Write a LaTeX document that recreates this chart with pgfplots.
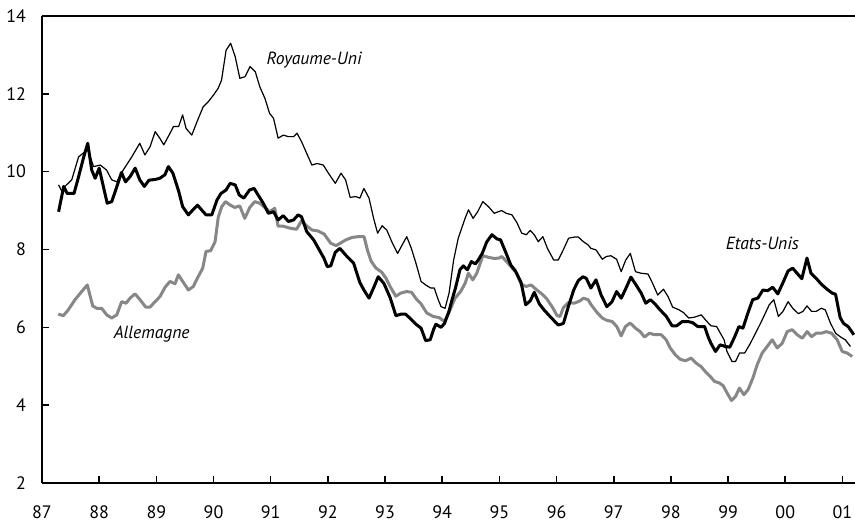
\documentclass[border=0pt]{standalone}
\usepackage{fontspec}
\setmainfont{PT Sans}
\usepackage{pgfplots}
\pgfplotsset{compat=1.18}
\definecolor{dgray}{RGB}{135,135,135}
\begin{document}
\begin{tikzpicture}
\begin{axis}[
  at={(0,0)}, anchor=south west,
  scale only axis, width=406.5pt, height=233.5pt,
  xmin=87, xmax=101.22, ymin=2, ymax=14,
  axis x line*=box, axis y line*=left,
  xtick pos=bottom, ytick pos=left,
  tick align=inside, major tick length=3.5pt,
  axis line style={line width=0.9pt},
  every tick/.style={black, line width=0.8pt},
  xtick={87,88,89,90,91,92,93,94,95,96,97,98,99,100,101},
  xticklabels={87,88,89,90,91,92,93,94,95,96,97,98,99,00,01},
  ytick={2,4,6,8,10,12,14},
  /pgf/number format/assume math mode=true,
  ticklabel style={font=\fontsize{9}{10}\selectfont},
  yticklabel style={xshift=-4.5pt},
  xticklabel style={yshift=-8pt},
  clip=false,
]
% Allemagne
\addplot[dgray, line width=1.5pt, line join=round] coordinates {
(87.285,6.34) (87.373,6.30) (87.460,6.45) (87.577,6.71) (87.695,6.92) (87.793,7.09) (87.887,6.55) (87.957,6.49) (88.044,6.49) (88.132,6.32) (88.219,6.24) (88.307,6.32) (88.394,6.66) (88.470,6.62) (88.540,6.75) (88.627,6.86) (88.715,6.71) (88.814,6.52) (88.890,6.52) (88.977,6.66) (89.064,6.79) (89.152,7.03) (89.239,7.18) (89.327,7.12) (89.385,7.35) (89.461,7.18) (89.560,6.96) (89.647,7.05) (89.717,7.26) (89.811,7.52) (89.869,7.95) (89.951,7.97) (90.027,8.20) (90.084,8.84) (90.144,9.10) (90.210,9.23) (90.284,9.15) (90.371,9.08) (90.459,9.12) (90.546,8.80) (90.634,9.08) (90.721,9.23) (90.809,9.19) (90.896,9.08) (90.984,8.97) (91.071,9.06) (91.129,8.60) (91.216,8.60) (91.333,8.55) (91.452,8.52) (91.540,8.74) (91.627,8.61) (91.724,8.50) (91.820,8.48) (91.933,8.40) (92.051,8.16) (92.143,8.10) (92.226,8.17) (92.318,8.25) (92.423,8.31) (92.528,8.33) (92.633,8.33) (92.691,7.99) (92.756,7.70) (92.843,7.52) (92.940,7.42) (93.018,7.26) (93.088,7.05) (93.188,6.80) (93.275,6.88) (93.377,6.92) (93.464,6.90) (93.552,6.72) (93.622,6.62) (93.730,6.37) (93.840,6.28) (93.945,6.25) (94.042,6.15) (94.129,6.42) (94.225,6.75) (94.322,6.92) (94.400,7.13) (94.458,7.39) (94.535,7.22) (94.605,7.39) (94.710,7.84) (94.808,7.80) (94.908,7.77) (94.995,7.78) (95.042,7.82) (95.126,7.69) (95.214,7.54) (95.301,7.39) (95.380,7.11) (95.467,7.05) (95.555,7.09) (95.655,6.96) (95.742,6.86) (95.830,6.73) (95.922,6.53) (96.010,6.30) (96.062,6.28) (96.120,6.51) (96.208,6.64) (96.307,6.62) (96.412,6.68) (96.470,6.75) (96.552,6.71) (96.605,6.58) (96.692,6.41) (96.797,6.24) (96.879,6.18) (96.972,6.15) (97.054,6.02) (97.130,5.78) (97.205,6.02) (97.287,6.11) (97.380,5.98) (97.462,5.89) (97.537,5.75) (97.625,5.85) (97.712,5.81) (97.829,5.81) (97.917,5.68) (97.987,5.47) (98.080,5.29) (98.162,5.18) (98.254,5.14) (98.354,5.21) (98.442,5.08) (98.529,4.99) (98.604,4.86) (98.687,4.74) (98.762,4.61) (98.849,4.57) (98.914,4.50) (98.984,4.31) (99.059,4.12) (99.129,4.22) (99.199,4.44) (99.276,4.27) (99.351,4.40) (99.434,4.70) (99.509,5.04) (99.597,5.34) (99.684,5.51) (99.772,5.68) (99.859,5.47) (99.946,5.59) (100.034,5.89) (100.121,5.94) (100.209,5.81) (100.296,5.72) (100.384,5.89) (100.459,5.76) (100.541,5.85) (100.634,5.85) (100.716,5.89) (100.809,5.85) (100.909,5.68) (100.996,5.38) (101.083,5.34) (101.171,5.25)
};
% Royaume-Uni
\addplot[black, line width=0.6pt, line join=round] coordinates {
(87.29,9.66) (87.35,9.49) (87.40,9.62) (87.52,9.79) (87.64,10.38) (87.75,10.51) (87.79,10.64) (87.90,10.13) (88.02,10.17) (88.13,10.04) (88.22,9.79) (88.31,9.74) (88.42,10.04) (88.57,10.38) (88.71,10.73) (88.80,10.43) (88.89,10.64) (88.98,11.03) (89.06,10.86) (89.13,10.69) (89.24,10.99) (89.30,11.16) (89.39,11.16) (89.46,11.46) (89.52,11.11) (89.62,10.94) (89.71,11.28) (89.82,11.67) (89.91,11.80) (90.00,11.97) (90.08,12.14) (90.14,12.35) (90.22,13.12) (90.30,13.30) (90.38,12.95) (90.46,12.40) (90.55,12.44) (90.64,12.70) (90.73,12.57) (90.81,12.18) (90.90,11.88) (90.98,11.50) (91.05,11.37) (91.13,10.86) (91.22,10.94) (91.31,10.90) (91.40,10.90) (91.46,10.99) (91.54,10.77) (91.63,10.47) (91.72,10.17) (91.81,10.21) (91.92,10.17) (92.01,9.96) (92.13,9.70) (92.23,9.96) (92.31,9.79) (92.39,9.34) (92.49,9.36) (92.56,9.32) (92.63,9.57) (92.72,9.32) (92.80,8.80) (92.87,8.42) (92.95,8.61) (93.03,8.50) (93.13,8.16) (93.22,7.90) (93.30,8.12) (93.38,8.33) (93.46,8.03) (93.54,7.65) (93.63,7.18) (93.71,7.09) (93.80,7.01) (93.86,7.01) (93.93,6.71) (93.98,6.53) (94.05,6.49) (94.12,6.88) (94.20,7.73) (94.28,8.29) (94.40,8.80) (94.46,9.02) (94.54,8.80) (94.62,8.97) (94.71,9.23) (94.81,9.10) (94.91,8.93) (94.98,8.97) (95.04,9.00) (95.12,8.93) (95.22,8.89) (95.31,8.68) (95.39,8.42) (95.47,8.38) (95.54,8.49) (95.61,8.38) (95.68,8.20) (95.76,8.33) (95.84,8.03) (95.95,7.73) (96.03,7.73) (96.13,8.03) (96.21,8.29) (96.31,8.32) (96.38,8.32) (96.47,8.20) (96.55,8.12) (96.60,8.03) (96.69,7.99) (96.80,7.75) (96.87,7.82) (96.95,7.84) (97.05,7.75) (97.13,7.43) (97.21,7.73) (97.29,7.90) (97.38,7.43) (97.48,7.39) (97.60,7.37) (97.68,7.13) (97.77,6.83) (97.87,6.98) (97.95,6.79) (98.03,6.52) (98.14,6.45) (98.22,6.38) (98.31,6.24) (98.41,6.26) (98.53,6.32) (98.63,6.15) (98.70,6.04) (98.80,6.02) (98.88,5.81) (98.93,5.68) (98.98,5.38) (99.07,5.12) (99.13,5.12) (99.20,5.34) (99.29,5.34) (99.39,5.59) (99.48,5.85) (99.57,6.11) (99.65,6.36) (99.72,6.58) (99.80,6.71) (99.88,6.28) (99.96,6.41) (100.05,6.66) (100.13,6.49) (100.23,6.35) (100.31,6.41) (100.38,6.55) (100.46,6.41) (100.54,6.41) (100.63,6.49) (100.70,6.45) (100.79,6.11) (100.88,5.85) (100.97,5.75) (101.05,5.68) (101.14,5.51)
};
% Etats-Unis
\addplot[black, line width=1.5pt, line join=round] coordinates {
(87.29,8.97) (87.38,9.62) (87.44,9.44) (87.56,9.44) (87.64,9.87) (87.73,10.38) (87.80,10.73) (87.87,10.04) (87.93,9.83) (88.00,10.09) (88.14,9.19) (88.22,9.23) (88.31,9.62) (88.39,9.98) (88.46,9.74) (88.54,9.87) (88.63,10.09) (88.71,9.79) (88.79,9.62) (88.87,9.78) (88.98,9.80) (89.06,9.83) (89.15,9.92) (89.21,10.13) (89.29,9.96) (89.39,9.50) (89.46,9.10) (89.56,8.89) (89.64,9.02) (89.72,9.14) (89.79,9.02) (89.87,8.89) (89.97,8.89) (90.06,9.27) (90.13,9.44) (90.22,9.53) (90.29,9.70) (90.38,9.66) (90.45,9.40) (90.53,9.32) (90.63,9.53) (90.71,9.57) (90.78,9.40) (90.87,9.19) (90.96,8.93) (91.05,8.97) (91.13,8.76) (91.22,8.87) (91.31,8.72) (91.40,8.76) (91.48,8.89) (91.54,8.84) (91.63,8.46) (91.75,8.25) (91.85,7.99) (91.93,7.78) (91.99,7.56) (92.05,7.58) (92.13,7.93) (92.21,8.03) (92.31,7.86) (92.45,7.65) (92.56,7.15) (92.63,6.96) (92.72,6.75) (92.81,7.05) (92.88,7.30) (92.98,7.13) (93.09,6.76) (93.19,6.30) (93.28,6.34) (93.36,6.34) (93.46,6.20) (93.54,6.08) (93.63,5.98) (93.71,5.66) (93.79,5.68) (93.85,5.95) (93.89,6.08) (93.98,6.00) (94.04,6.10) (94.12,6.42) (94.17,6.70) (94.23,7.00) (94.31,7.48) (94.37,7.58) (94.44,7.48) (94.51,7.69) (94.58,7.63) (94.63,7.73) (94.70,7.90) (94.78,8.20) (94.87,8.38) (94.96,8.27) (95.02,8.25) (95.11,7.93) (95.20,7.60) (95.28,7.45) (95.38,7.15) (95.46,6.58) (95.54,6.68) (95.61,6.90) (95.70,6.60) (95.78,6.45) (95.86,6.32) (95.95,6.18) (96.03,6.06) (96.12,6.10) (96.21,6.55) (96.30,6.96) (96.38,7.20) (96.46,7.30) (96.52,7.26) (96.60,7.01) (96.69,7.22) (96.78,6.83) (96.88,6.53) (96.97,6.66) (97.05,6.92) (97.13,6.75) (97.20,6.96) (97.30,7.29) (97.39,7.09) (97.48,6.88) (97.56,6.62) (97.64,6.71) (97.71,6.62) (97.81,6.45) (97.92,6.28) (98.02,6.04) (98.10,6.04) (98.20,6.15) (98.30,6.15) (98.38,6.12) (98.47,6.02) (98.59,6.02) (98.65,5.76) (98.70,5.59) (98.78,5.38) (98.86,5.55) (98.95,5.51) (99.03,5.49) (99.11,5.74) (99.19,6.02) (99.26,5.98) (99.34,6.34) (99.43,6.71) (99.52,6.75) (99.61,6.96) (99.69,6.94) (99.78,7.03) (99.87,6.86) (99.96,7.15) (100.05,7.45) (100.13,7.52) (100.20,7.40) (100.29,7.25) (100.38,7.78) (100.45,7.39) (100.54,7.26) (100.63,7.11) (100.73,6.98) (100.82,6.88) (100.88,6.85) (100.96,6.25) (101.02,6.10) (101.10,6.02) (101.20,5.81)
};
\node[font=\fontsize{8.8}{10}\selectfont\itshape] at (axis cs:91.76,12.86) {Royaume-Uni};
\node[font=\fontsize{8.8}{10}\selectfont\itshape] at (axis cs:99.60,8.16) {Etats-Unis};
\node[font=\fontsize{8.8}{10}\selectfont\itshape] at (axis cs:88.92,5.83) {Allemagne};
\end{axis}
\pgfresetboundingbox
\useasboundingbox (-21pt,-22pt) rectangle (406.5pt,241.5pt);
\end{tikzpicture}
\end{document}
